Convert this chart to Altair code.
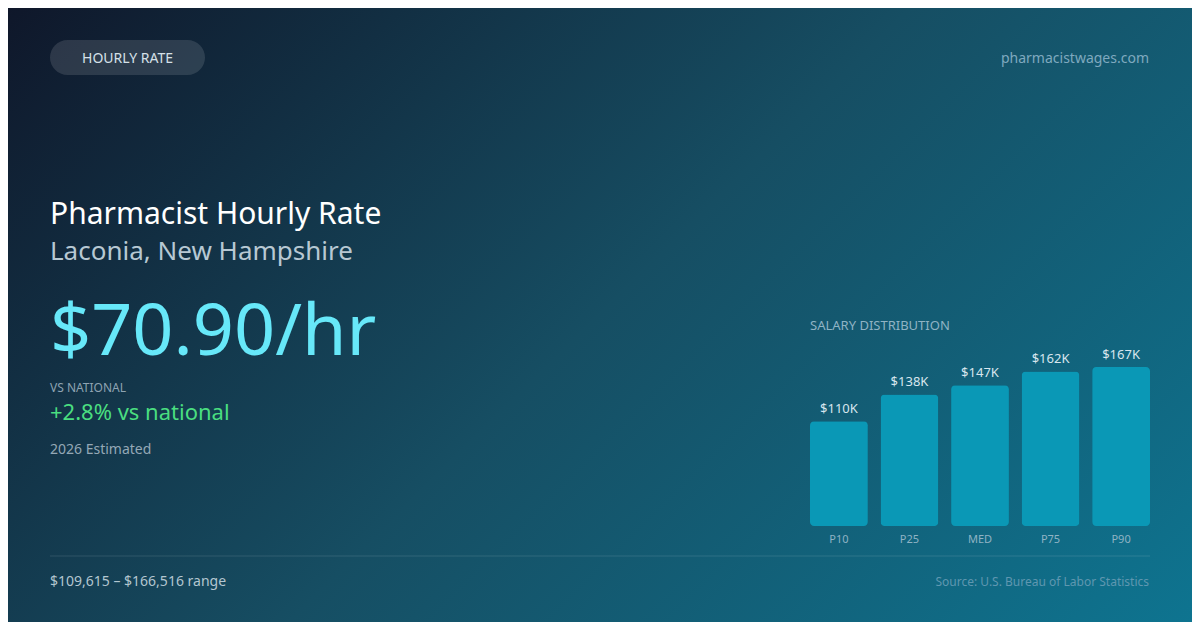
import altair as alt
import pandas as pd

# ---- data ----
categories = ["P10", "P25", "MED", "P75", "P90"]
salaries = [109615, 137800, 147472, 161900, 166516]

hourly_rate = "$70.90/hr"
title_text = "Pharmacist Hourly Rate"
subtitle_text = "Laconia, New Hampshire"
badge_text = "HOURLY RATE"
site_text = "pharmacistwages.com"
vs_label = "VS NATIONAL"
vs_value = "+2.8% vs national"
estimate_text = "2026 Estimated"
range_text = "$109,615 – $166,516 range"
source_text = "Source: U.S. Bureau of Labor Statistics"
dist_title = "SALARY DISTRIBUTION"

W, H = 1184, 614   # page has 8px margin: chart coords = picture coords - 8
OFF = 8
FONT = "Noto Sans"

bars_df = pd.DataFrame({"cat": categories, "salary": salaries})
one = pd.DataFrame({"k": [0]})

# background gradient (diagonal, like CSS 135deg)
bg = alt.Chart(one).mark_rect(
    fill=alt.Gradient(
        gradient="linear",
        x1=0, y1=0, x2=1.1955, y2=0.6276,
        stops=[
            alt.GradientStop(color="#0f172a", offset=0),
            alt.GradientStop(color="#164e63", offset=0.5),
            alt.GradientStop(color="#0e7490", offset=1),
        ],
    )
).encode(x=alt.value(0), x2=alt.value(W), y=alt.value(0), y2=alt.value(H))

# pill badge
pill = alt.Chart(one).mark_rect(
    fill="#ffffff", opacity=0.12, cornerRadius=17.5
).encode(
    x=alt.value(50 - OFF), x2=alt.value(205 - OFF),
    y=alt.value(40 - OFF), y2=alt.value(75 - OFF),
)


def txt(text, x, y, size, color, align="left", weight="normal", opacity=1.0):
    return alt.Chart(pd.DataFrame({"t": [text]})).mark_text(
        align=align, baseline="alphabetic", font=FONT, fontSize=size,
        color=color, fontWeight=weight, opacity=opacity,
    ).encode(x=alt.value(x - OFF), y=alt.value(y - OFF), text="t:N")


texts = [
    txt(badge_text, 127.5, 63, 14, "#d5e0e8", align="center"),
    txt(site_text, 1149, 63, 14, "#7fa9bf", align="right"),
    txt(title_text, 50, 224, 30, "#ffffff"),
    txt(subtitle_text, 50, 260, 26, "#b7c8d3"),
    txt(hourly_rate, 50, 355, 72, "#67e8f9"),
    txt(vs_label, 50, 392, 12, "#8ea3b2"),
    txt(vs_value, 50, 420, 22, "#4ade80"),
    txt(estimate_text, 50, 454, 14, "#94a8b6"),
    txt(range_text, 50, 586, 14, "#b3c6d0"),
    txt(source_text, 1149, 586, 12, "#5f97b0", align="right"),
    txt(dist_title, 810, 330, 13, "#8fb3c4"),
]

divider = alt.Chart(one).mark_rule(color="#ffffff", opacity=0.12, strokeWidth=1).encode(
    x=alt.value(50 - OFF), x2=alt.value(1150 - OFF), y=alt.value(556 - OFF)
)

# bar chart through scales
xs = alt.X("cat:N", sort=categories, axis=None,
           scale=alt.Scale(range=[810 - OFF, 1150 - OFF], paddingInner=0.18, paddingOuter=0))
ys = alt.Y("salary:Q", axis=None,
           scale=alt.Scale(domain=[0, max(salaries)], range=[526 - OFF, 367 - OFF], nice=False, zero=True))

bars = alt.Chart(bars_df).mark_bar(color="#0a98b6", cornerRadius=4).encode(x=xs, y=ys)

bar_labels = alt.Chart(bars_df).transform_calculate(
    lab="'$' + format(datum.salary / 1000, '.0f') + 'K'"
).mark_text(
    baseline="alphabetic", dy=-8, font=FONT, fontSize=13, color="#d8e6ee"
).encode(x=xs, y=ys, text="lab:N")

cat_labels = alt.Chart(bars_df).mark_text(
    baseline="alphabetic", font=FONT, fontSize=11, color="#8fb3c4"
).encode(x=xs, y=alt.value(543 - OFF), text="cat:N")

chart = alt.layer(
    bg, pill, divider, *texts, bars, bar_labels, cat_labels
).properties(
    width=W, height=H, padding=0,
    autosize=alt.AutoSizeParams(type="fit", contains="padding"),
).configure_view(stroke=None).configure(background="#0f172a")

chart.save("out.html", embed_options={"renderer": "svg", "actions": False})
